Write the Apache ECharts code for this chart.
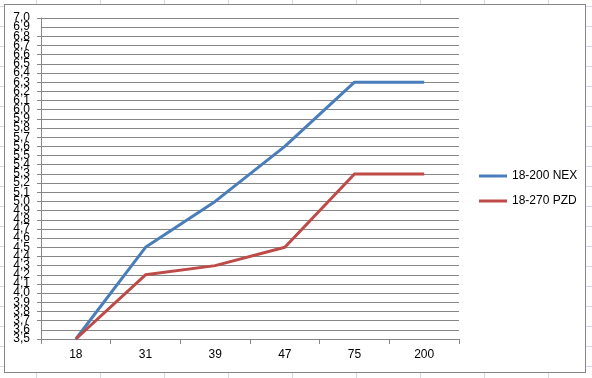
<!DOCTYPE html>
<html>
<head>
<meta charset="utf-8">
<script src="https://cdn.jsdelivr.net/npm/echarts@6/dist/echarts.min.js"></script>
<style>
  html, body { margin: 0; padding: 0; }
  body {
    width: 592px; height: 378px; position: relative; overflow: hidden;
    background-color: #fff;
    /* spreadsheet cell grid behind the chart object */
    background-image:
      linear-gradient(to bottom, #d0d7e5 1px, transparent 1px),
      linear-gradient(to right, #d0d7e5 1px, transparent 1px);
    background-size: 100% 20px, 64px 100%;
    background-position: 0 6px, 36px 0;
  }
  #chart {
    position: absolute; left: 4px; top: 4px;
    box-sizing: border-box; width: 582px; height: 369px;
    border: 1px solid #868686; background: #fff;
  }
</style>
</head>
<body>
<div id="chart"></div>
<script>
const categories = ["18", "31", "39", "47", "75", "200"];
const nexName = "18-200 NEX";
const nexValues = [3.5, 4.5, 5.0, 5.6, 6.3, 6.3];
const pzdName = "18-270 PZD";
const pzdValues = [3.5, 4.2, 4.3, 4.5, 5.3, 5.3];
const yMin = 3.5;
const yMax = 7.0;
const yStep = 0.1;

const FONT = "Liberation Sans";
const GRAY = "#868686";

const fmt = (v) => v.toFixed(1).replace(".", ",");
// labels next to min/max get dropped by ECharts' overlap check; a second,
// label-only axis puts them back
const nearEnds = [fmt(yMin + yStep), fmt(yMax - yStep)];

const labelStyle = { margin: 11, fontSize: 12, color: "#000", fontFamily: FONT };

const chart = echarts.init(document.getElementById("chart"), null, { renderer: "canvas" });

chart.setOption({
  animation: false,
  textStyle: { fontFamily: FONT },
  grid: { left: 36, top: 13, width: 418, height: 321, containLabel: false },
  legend: {
    orient: "vertical",
    left: 469,
    top: 160,
    itemWidth: 28,
    itemHeight: 3,
    itemGap: 13,
    icon: "rect",
    data: [nexName, pzdName],
    textStyle: { fontFamily: FONT, fontSize: 12, color: "#000" },
  },
  xAxis: {
    type: "category",
    data: categories,
    boundaryGap: true,
    axisLine: { lineStyle: { color: GRAY, width: 1 } },
    axisTick: { show: true, length: 5, alignWithLabel: false, lineStyle: { color: GRAY } },
    axisLabel: { margin: 10, fontSize: 12, color: "#000", fontFamily: FONT },
    splitLine: { show: false },
  },
  yAxis: [
    {
      type: "value",
      min: yMin,
      max: yMax,
      interval: yStep,
      axisLine: { show: true, lineStyle: { color: GRAY, width: 1 } },
      axisTick: { show: true, length: 4, lineStyle: { color: GRAY } },
      axisLabel: { ...labelStyle, showMinLabel: true, showMaxLabel: true, formatter: fmt },
      splitLine: { show: true, lineStyle: { color: GRAY, width: 1 } },
    },
    {
      type: "value",
      position: "left",
      offset: 0,
      min: yMin,
      max: yMax,
      interval: yStep,
      axisLine: { show: false },
      axisTick: { show: false },
      splitLine: { show: false },
      axisLabel: {
        ...labelStyle,
        showMinLabel: false,
        showMaxLabel: false,
        formatter: (v) => (nearEnds.includes(fmt(v)) ? fmt(v) : ""),
      },
    },
  ],
  series: [
    {
      name: nexName,
      type: "line",
      data: nexValues,
      showSymbol: false,
      symbol: "none",
      lineStyle: { width: 3, color: "#4a7ebb" },
      itemStyle: { color: "#4a7ebb" },
    },
    {
      name: pzdName,
      type: "line",
      data: pzdValues,
      showSymbol: false,
      symbol: "none",
      lineStyle: { width: 3, color: "#be4b48" },
      itemStyle: { color: "#be4b48" },
    },
  ],
});
</script>
</body>
</html>
